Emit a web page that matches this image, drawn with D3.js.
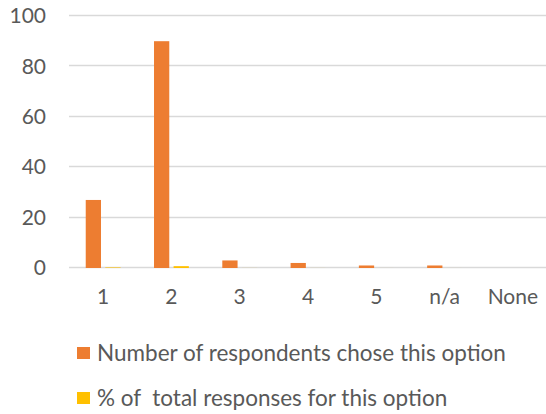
<!DOCTYPE html>
<html>
<head>
<meta charset="utf-8">
<script src="https://cdn.jsdelivr.net/npm/d3@7"></script>
<style>
  html, body { margin: 0; padding: 0; background: #fff; }
  svg { display: block; font-family: Lato, "Open Sans", sans-serif; }
</style>
</head>
<body>
<svg id="chart" width="546" height="414"></svg>
<script>
// Survey responses per option
const categories = ["1", "2", "3", "4", "5", "n/a", "None"];
const respondents = [27, 90, 3, 2, 1, 1, 0];
const shareOfTotal = [0.22, 0.73, 0.02, 0.016, 0.008, 0.008, 0];
const seriesNames = ["Number of respondents chose this option", "% of  total responses for this option"];
const seriesColors = ["#ED7D31", "#FFC000"];
const yTicks = [0, 20, 40, 60, 80, 100];

const svg = d3.select("#chart");
const textColor = "#595959";
const plot = { left: 69, right: 547, top: 16, bottom: 268 };

const x0 = d3.scaleBand().domain(categories).range([plot.left, plot.right]).paddingInner(0.49).paddingOuter(0.245);
const x1 = d3.scaleBand().domain([0, 1]).range([0, x0.bandwidth()]).paddingInner(0.22);
const y = d3.scaleLinear().domain([0, 100]).range([plot.bottom, plot.top]);

// Horizontal gridlines
svg.append("g")
  .selectAll("line")
  .data(yTicks)
  .join("line")
  .attr("x1", plot.left)
  .attr("x2", 546)
  .attr("y1", d => Math.round(y(d)) - 0.5)
  .attr("y2", d => Math.round(y(d)) - 0.5)
  .attr("stroke", "#D9D9D9")
  .attr("stroke-width", 1.3);

// Y axis labels
const yAxis = d3.axisLeft(y).tickValues(yTicks).tickSize(0).tickPadding(0);
svg.append("g")
  .attr("transform", "translate(46,0)")
  .call(yAxis)
  .call(g => g.select(".domain").remove())
  .call(g => g.selectAll("text")
    .attr("fill", textColor)
    .attr("font-size", "21px")
    .attr("font-family", "Lato, sans-serif"));

// Bars
const series = [respondents, shareOfTotal];
const groups = svg.append("g")
  .selectAll("g")
  .data(categories)
  .join("g")
  .attr("transform", d => `translate(${x0(d)},0)`);

groups.selectAll("rect")
  .data((d, i) => series.map((s, k) => ({ k, v: s[i] })))
  .join("rect")
  .attr("x", d => x1(d.k))
  .attr("width", x1.bandwidth())
  .attr("y", d => y(d.v))
  .attr("height", d => y(0) - y(d.v))
  .attr("fill", d => seriesColors[d.k]);

// X axis labels
const xAxis = d3.axisBottom(x0).tickSize(0).tickPadding(0);
svg.append("g")
  .attr("transform", "translate(0,289)")
  .call(xAxis)
  .call(g => g.select(".domain").remove())
  .call(g => g.selectAll("text")
    .attr("fill", textColor)
    .attr("font-size", "21px")
    .attr("font-family", "Lato, sans-serif"));

// Legend
const legend = svg.append("g")
  .selectAll("g")
  .data(seriesNames)
  .join("g")
  .attr("transform", (d, i) => `translate(77,${347 + i * 45})`);

legend.append("rect")
  .attr("width", 13)
  .attr("height", 12)
  .attr("fill", (d, i) => seriesColors[i]);

legend.append("text")
  .attr("x", 20)
  .attr("y", 6)
  .attr("dy", "0.35em")
  .attr("fill", textColor)
  .attr("font-size", "22.5px")
  .style("white-space", "pre")
  .text(d => d);
</script>
</body>
</html>
